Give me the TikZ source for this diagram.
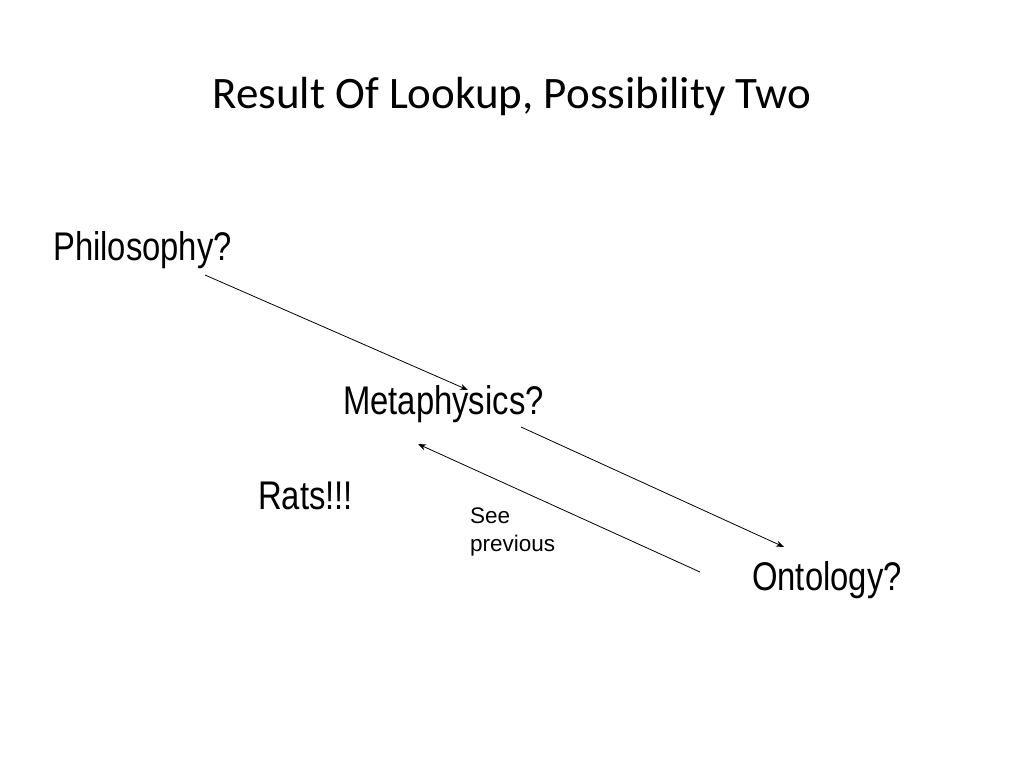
\documentclass[tikz,border=0pt]{standalone}
\usepackage{fontspec}
\setmainfont{Liberation Sans}
\newfontfamily\titlefont{Carlito}
\newfontfamily\narrowfont[FakeStretch=0.82]{Liberation Sans}
\usetikzlibrary{arrows.meta}
\begin{document}
\begin{tikzpicture}[x=1pt,y=-1pt,
  lbl/.style={font=\narrowfont\fontsize{40}{44}\selectfont,inner sep=0pt},
  conn/.style={-{Stealth[length=8pt,width=6pt]},line width=0.8pt}]
\useasboundingbox (0,0) rectangle (1024,768);
\node[font=\titlefont\fontsize{45}{50}\selectfont] (t) at (512,97) {Result Of Lookup, Possibility Two};
\node[lbl,anchor=west] (p) at (53,250) {Philosophy?};
\node[lbl,anchor=west] (m) at (343,404) {Metaphysics?};
\node[lbl,anchor=west] (r) at (258,496) {Rats!!!};
\node[lbl,anchor=west] (o) at (752,580) {Ontology?};
\node[anchor=north west,align=left,inner sep=0pt,font=\fontsize{22.5}{28}\selectfont] (s) at (470,508) {See\\previous};
\coordinate (a1) at (205,275); \coordinate (a2) at (468,390);
\coordinate (b1) at (521,427); \coordinate (b2) at (784,547);
\coordinate (c1) at (700,572); \coordinate (c2) at (418,444);
\draw[conn] (a1) -- (a2);
\draw[conn] (b1) -- (b2);
\draw[conn] (c1) -- (c2);
\end{tikzpicture}
\end{document}
